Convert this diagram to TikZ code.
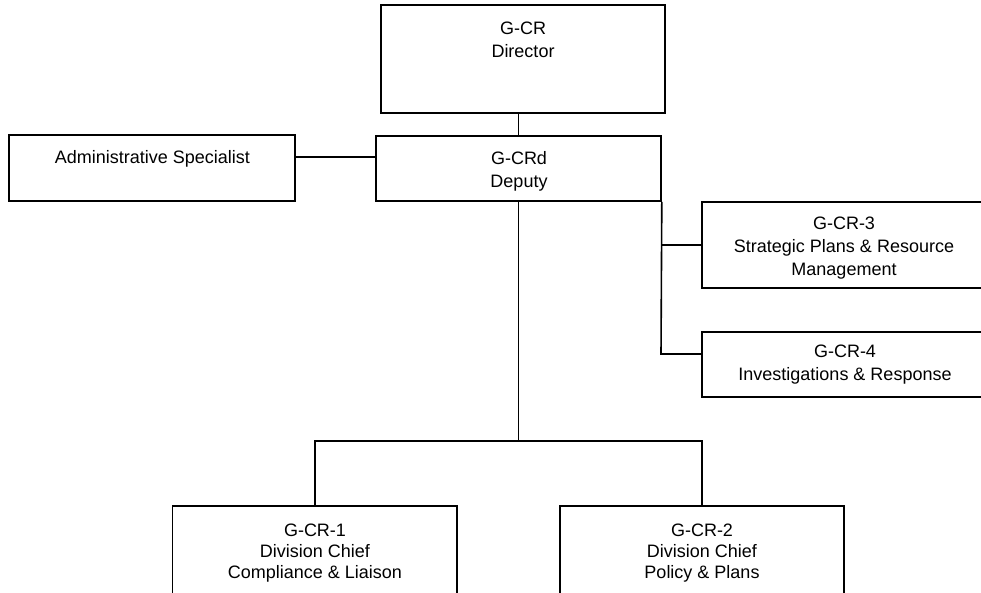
\documentclass[tikz,border=0pt]{standalone}
\usepackage{fontspec}
\setmainfont{Liberation Sans}
\begin{document}
\begin{tikzpicture}[x=1pt,y=-1pt,
  orgbox/.style={draw=black,line width=1.6pt,rectangle,inner sep=0pt},
  orgtxt/.style={anchor=north,inner sep=0pt,align=center,font=\fontsize{18}{23}\selectfont},
  lowtxt/.style={orgtxt,font=\fontsize{18}{21}\selectfont},
  link/.style={draw=black,line width=1.6pt}]
\useasboundingbox (0,0) rectangle (981,592);
\clip (0,0) rectangle (981,592);
% boxes
\node[orgbox,minimum width=284pt,minimum height=108pt] (dir) at (523,59) {};
\node[orgbox,minimum width=285pt,minimum height=65pt] (dep) at (518.5,168.5) {};
\node[orgbox,minimum width=286pt,minimum height=66pt] (adm) at (152,168) {};
\node[orgbox,minimum width=286pt,minimum height=86pt] (g3) at (845,245) {};
\node[orgbox,minimum width=286pt,minimum height=65pt] (g4) at (845,364.5) {};
\node[orgbox,minimum width=284.5pt,minimum height=100pt] (g1) at (314.75,556) {};
\node[orgbox,minimum width=284pt,minimum height=100pt] (g2) at (702,556) {};
% texts
\node[orgtxt] (tdir) at (523,22) {G-CR\\Director};
\node[orgtxt] (tdep) at (519,151) {G-CRd\\Deputy};
\node[orgtxt] (tadm) at (152.5,150.5) {Administrative Specialist};
\node[orgtxt] (tg3) at (844,216.5) {G-CR-3\\Strategic Plans \& Resource\\Management};
\node[orgtxt] (tg4) at (845,345) {G-CR-4\\Investigations \& Response};
\node[lowtxt] (tg1) at (315,524) {G-CR-1\\Division Chief\\Compliance \& Liaison};
\node[lowtxt] (tg2) at (702,524) {G-CR-2\\Division Chief\\Policy \& Plans};
% junction coordinates
\coordinate (ja) at (0,157);
\coordinate (j4) at (661,354);
\coordinate (bus) at (0,441);
% connectors
\draw[link] (dep.north) -- (dep.north |- dir.south);
\draw[link] (adm.east |- ja) -- (dep.west |- ja);
\draw[link] (dep.south east) -- (j4) -- (g4.west |- j4);
\draw[link] (dep.south east |- g3.west) -- (g3.west);
\draw[link] (dep.south) -- (dep.south |- bus);
\draw[link] (g1.north) |- (dep.south |- bus) -| (g2.north);
\end{tikzpicture}
\end{document}
